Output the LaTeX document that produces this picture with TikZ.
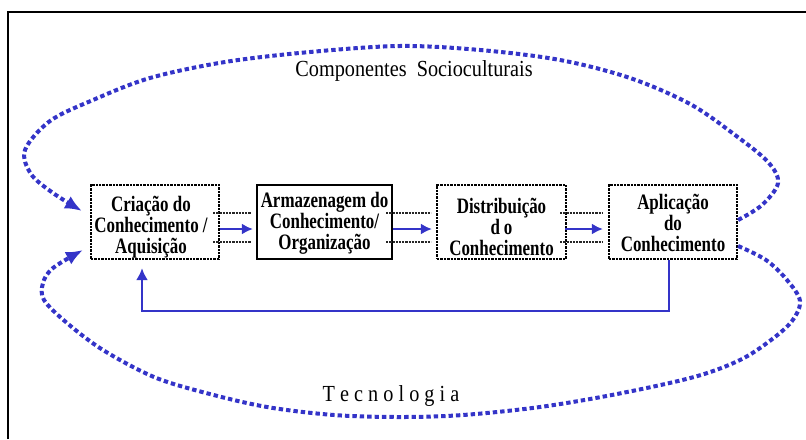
\documentclass[tikz,border=0pt]{standalone}
\usepackage{fontspec}
\setmainfont{Liberation Serif}[FakeStretch=0.88]
\newfontfamily\stagefont{Liberation Serif}[FakeStretch=0.77]
\usetikzlibrary{arrows.meta,calc}
\definecolor{kblue}{RGB}{52,52,200}
\begin{document}
\begin{tikzpicture}[x=0.5pt,y=-0.5pt,
  stagebox/.style={draw,line width=1.1pt,dash pattern=on 1.2pt off 0.5pt,
    rectangle,inner sep=0pt,minimum height=37pt},
  solidbox/.style={stagebox,solid},
  stagetext/.style={inner sep=0pt,align=center,
    font=\stagefont\bfseries\fontsize{11}{10.6}\selectfont},
  guide/.style={line width=0.7pt,dash pattern=on 1.1pt off 0.5pt,black!85},
  flow/.style={kblue,line width=1.3pt,-{Latex[length=5.5pt,width=5.5pt]}},
  ring/.style={kblue,line width=2pt,dash pattern=on 2.2pt off 1.5pt,
    -{Latex[length=8.5pt,width=7pt]}},
  label/.style={font=\fontsize{11.5}{12}\selectfont}]
\useasboundingbox (0,0) rectangle (806,439);
% frame
\draw[line width=1pt] (8,439) -- (8,12) -- (806,12);

% the four stages
\node[stagebox,minimum width=64pt] (b1) at (155,222) {};
\node[solidbox,minimum width=67.5pt] (b2) at (324.5,222) {};
\node[stagebox,minimum width=64.5pt] (b3) at (501.5,222) {};
\node[stagebox,minimum width=64pt] (b4) at (673,222) {};
\node[stagetext] (t1) at ([xshift=-2pt,yshift=-2.5pt]b1.center) {Criação do\\Conhecimento /\\Aquisição};
\node[stagetext] (t2) at ([yshift=-0.5pt]b2.center) {Armazenagem do\\Conhecimento/\\Organização};
\node[stagetext] (t3) at ([yshift=-2.5pt]b3.center) {Distribuição\\d\,o\\Conhecimento};
\node[stagetext] (t4) at ([yshift=-0.5pt]b4.center) {Aplicação\\do\\Conhecimento};

% dashed guides between the stages
\foreach \a/\b in {b1/b2,b2/b3,b3/b4}{
  \draw[guide] ($(\a.east)+(-7,-9)$) -- ($(\b.west)+(-5,-9)$);
  \draw[guide] ($(\a.east)+(-7,20)$) -- ($(\b.west)+(-5,20)$);
}
% forward flow
\draw[flow] ($(b1.east)+(0,7)$) -- ($(b2.west)+(-3,7)$);
\draw[flow] ($(b2.east)+(0,7)$) -- ($(b3.west)+(-4,7)$);
\draw[flow] ($(b3.east)+(-2,7)$) -- ($(b4.west)+(-5,7)$);

% feedback loop
\coordinate (fbl) at (142,311);
\draw[kblue,line width=1.3pt,-{Latex[length=6pt,width=6pt]}]
  ([xshift=-2pt]b4.south) |- (fbl) -- ([yshift=-4pt]fbl |- b1.south);

% socio-cultural ring (upper)
\draw[ring] plot[smooth,tension=0.55] coordinates {
  ([yshift=1pt]b4.east) (762,205) (778,183) (768,162) (735,135) (690,104)
  (630,78) (560,60) (480,50) (400,46) (310,52) (225,62) (150,78) (93,100)
  (50,121) (25,150) (31,174) (53,193) (82,211)};
% technology ring (lower)
\draw[ring] plot[smooth,tension=0.55] coordinates {
  ([yshift=-12pt]b4.east) (766,260) (787,280) (800,301) (792,321) (771,340)
  (740,360) (694,377) (617,394) (540,407) (463,415) (401,417) (334,415)
  (267,407) (206,393) (154,377) (103,350) (67,323) (44,300) (43,283)
  (53,268) (83,250)};

\node[label] (socio) at (414,71) {Componentes\ \ Socioculturais};
\node[label] (tec) at (391,396) {T e c n o l o g i a};
\end{tikzpicture}
\end{document}
